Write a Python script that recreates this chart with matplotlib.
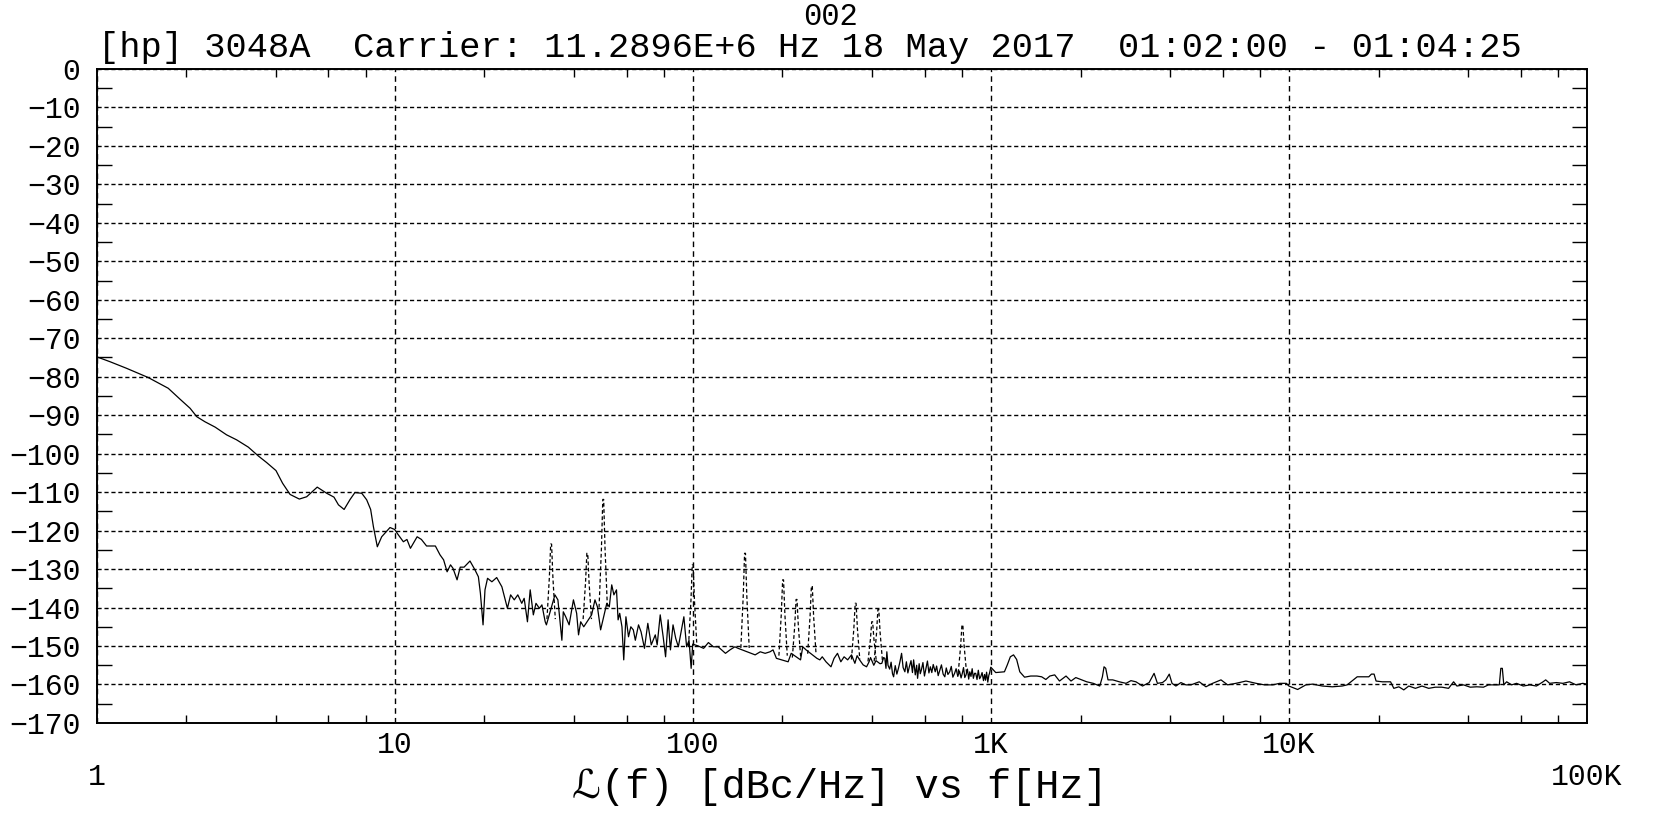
import matplotlib
matplotlib.use("Agg")
import numpy as np
import matplotlib.pyplot as plt
from matplotlib.ticker import FixedLocator, FixedFormatter, NullFormatter

# texts of the HP 3048A plot
run_id = "002"
header = "[hp] 3048A  Carrier: 11.2896E+6 Hz 18 May 2017  01:02:00 - 01:04:25"
x_label = "ℒ(f) [dBc/Hz] vs f[Hz]"

x_ticks = [1, 10, 100, 1e3, 1e4, 1e5]
x_tick_labels = ["1", "10", "100", "1K", "10K", "100K"]
y_ticks = list(range(0, -171, -10))
y_tick_labels = ["0"] + ["\u2212%d" % -v for v in y_ticks[1:]]

# measured trace, one decade at a time (Hz, dBc/Hz)
f_dec1 = [1.0, 1.11, 1.26, 1.49, 1.74, 1.91, 2.06, 2.17, 2.31, 2.50, 2.73, 2.95,
          3.23, 3.49, 3.72, 4.00, 4.21, 4.46, 4.79, 5.07, 5.50, 5.92, 6.26, 6.48,
          6.77, 7.09, 7.36, 7.76, 8.06, 8.31, 8.49, 8.75, 9.05, 9.65]
l_dec1 = [-74.8, -76.1, -77.8, -80.2, -83.0, -85.9, -88.2, -90.4, -91.7, -93.1,
          -95.1, -96.4, -98.3, -100.6, -102.3, -104.4, -107.7, -110.6, -111.8,
          -111.2, -108.7, -110.3, -111.3, -113.3, -114.5, -111.9, -110.1, -110.3,
          -112.0, -114.5, -119.0, -124.2, -121.6, -119.2]

f_dec2 = [10.0, 10.29, 10.7, 11.0, 11.3, 11.9, 12.3, 12.8, 13.7, 14.2, 14.6, 15.0,
          15.4, 15.7, 16.2, 16.6, 17.1, 17.9, 18.6, 19.1, 19.4, 19.8, 20.1, 20.5,
          21.2, 22.0, 22.9, 23.5, 23.9, 24.5, 25.2, 25.9, 26.7, 27.2, 27.9, 28.5,
          29.2, 29.8, 30.6, 31.2, 32.0, 32.3, 34.5, 35.3, 36.4, 36.8, 37.5, 38.5,
          39.8, 40.8, 41.4, 42.1, 43.1, 45.8, 47.0, 47.9, 49.1, 51.5, 52.5, 53.5,
          54.4, 55.5, 56.2, 56.9, 57.9, 58.7, 59.7, 60.9, 62.0, 63.2, 64.2, 65.8,
          67.1, 68.9, 70.7, 72.6, 74.9, 76.0, 77.8, 79.6, 81.1, 82.7, 84.2, 85.9,
          87.7, 89.5, 91.7, 93.4, 95.4, 97.2, 98.8]
l_dec2 = [-119.7, -121.1, -122.9, -122.3, -124.6, -121.6, -122.3, -124.0, -124.0,
          -126.3, -127.6, -130.7, -128.9, -129.8, -132.8, -129.5, -129.5, -127.9,
          -130.2, -132.0, -136.3, -144.5, -135.4, -132.4, -133.3, -132.2, -134.6,
          -138.0, -140.2, -136.7, -138.0, -136.7, -138.9, -137.6, -143.7, -135.4,
          -141.9, -138.9, -140.2, -139.3, -143.7, -144.5, -136.7, -138.0, -148.5,
          -141.1, -142.4, -144.5, -138.0, -141.5, -147.1, -143.7, -145.0, -141.9,
          -138.0, -139.8, -145.8, -138.9, -139.8, -134.1, -136.7, -135.4, -143.2,
          -141.5, -145.0, -153.6, -142.4, -147.6, -145.0, -145.8, -148.5, -144.5,
          -146.3, -150.6, -144.1, -149.7, -147.1, -149.7, -141.9, -147.6, -152.8,
          -143.2, -151.0, -144.5, -148.0, -150.2, -145.8, -142.4, -150.2, -148.5,
          -155.8]

f_dec3 = [100, 104.4, 108.8, 112.9, 117.3, 121.7, 128.8, 133.4, 138.5, 142, 162,
          168.5, 175, 181.7, 186, 190.9, 209, 214, 230, 234, 240, 261, 267, 272,
          280, 291, 298, 306, 314, 322, 331, 341, 350, 356, 363, 373, 383, 390,
          395, 405, 412, 425,
          431, 437, 441, 445, 448, 452, 458, 463, 468, 472, 478, 484, 490, 496,
          502, 508, 515, 521, 527, 533, 540, 546, 551, 558, 564, 568, 575, 580,
          585, 592, 599, 606, 613, 620, 627, 634, 641, 651, 658, 666, 675, 683,
          692, 701, 709, 718, 728, 737, 746, 756, 765, 775, 785, 795, 803, 810,
          818, 826, 835, 843, 850, 858, 866, 874, 882, 890, 899, 908, 917, 925,
          935, 945, 953, 960, 968, 977, 985, 990]
l_dec3 = [-149.5, -150.0, -150.6, -149.1, -150.2, -150.2, -151.9, -151.0, -150.2,
          -150.6, -152.3, -151.5, -151.9, -151.5, -151.0, -153.2, -154.1, -151.9,
          -153.6, -150.2, -151.0, -153.2, -153.6, -152.8, -154.1, -155.4, -153.2,
          -151.9, -154.1, -152.8, -153.6, -152.3, -154.5, -152.5, -153.6, -154.9,
          -155.4, -154.2, -153.0, -155.0, -153.8, -154.6,
          -154.5, -153.0, -153.2, -155.8, -151.5, -155.0, -156.0, -154.2, -157.2,
          -158.0, -155.1, -157.3, -155.8, -154.0, -151.9, -155.6, -156.7, -154.1,
          -157.0, -155.4, -153.8, -156.9, -153.6, -157.5, -155.0, -158.4, -154.6,
          -157.2, -156.2, -154.3, -157.8, -155.8, -153.9, -157.0, -155.4, -156.9,
          -154.8, -156.7, -155.2, -157.7, -156.2, -154.9, -157.3, -158.0, -155.7,
          -157.4, -156.7, -155.3, -158.1, -157.1, -155.9, -157.9, -156.5, -158.3,
          -157.0, -155.6, -158.2, -157.5, -156.0, -158.6, -156.7, -157.9, -155.9,
          -158.4, -157.1, -157.1, -158.7, -156.3, -158.5, -158.0, -156.9, -159.0,
          -157.4, -158.9, -156.8, -159.4, -157.6, -157.1]

f_dec4 = [1000, 1039, 1111, 1136, 1163, 1192, 1221, 1251, 1298, 1361, 1428, 1481,
          1530, 1578, 1638, 1700, 1788, 1858, 1928, 2098, 2207, 2320, 2368, 2398,
          2430, 2473, 2565, 2699, 2842, 2952, 3068, 3228, 3397, 3530, 3622, 3766,
          3866, 3969, 4055, 4177, 4343, 4513, 4692, 5004, 5269, 5547, 5919, 6231,
          6643, 7178, 7763, 8277, 8831, 9304, 9800]
l_dec4 = [-155.5, -156.9, -156.7, -154.9, -152.8, -152.3, -153.5, -156.7, -158.1,
          -157.8, -157.8, -158.0, -158.7, -157.8, -157.5, -159.1, -157.8, -159.1,
          -158.2, -159.3, -159.7, -160.4, -158.0, -155.4, -155.8, -158.8, -158.8,
          -159.3, -159.7, -159.0, -159.3, -160.4, -159.5, -157.1, -159.7, -159.5,
          -158.8, -157.3, -159.7, -160.4, -159.5, -160.1, -160.1, -159.3, -160.6,
          -159.7, -158.8, -160.1, -159.7, -159.1, -159.7, -160.1, -160.1, -159.7,
          -159.7]

f_dec5 = [10000, 10700, 11400, 12000, 12950, 13980, 15090, 15680, 16520, 16950,
          17840, 18540, 18920, 19310, 19610, 20560, 21930, 22490, 23380, 24290,
          25250, 26570, 27960, 29440, 30980, 32610, 34330, 35690, 36610, 38550,
          40570, 42700, 44950, 46720, 48540, 50800, 51400, 52000, 52600, 53770,
          55880, 58040, 61120, 64300, 67660, 71220, 72700, 74960, 78900, 83030,
          87370, 91950, 96760, 100000]
l_dec5 = [-160.4, -161.3, -160.1, -159.9, -160.4, -160.6, -160.4, -160.1, -158.7,
          -158.0, -158.0, -158.0, -157.3, -157.3, -159.1, -159.3, -159.3, -161.0,
          -160.6, -161.4, -160.4, -161.0, -160.4, -161.0, -160.7, -160.7, -161.0,
          -159.3, -160.4, -160.1, -160.7, -160.6, -160.7, -160.1, -160.1, -160.1,
          -155.8, -155.8, -160.1, -159.3, -160.1, -159.7, -160.4, -160.1, -160.4,
          -159.3, -158.8, -159.7, -159.5, -159.7, -159.3, -160.1, -159.7, -159.9]

# spurs (drawn dashed by the 3048A)
spur_freq = [33.5, 44.3, 50.1, 100.0, 149.8, 201, 223, 251, 352, 400, 419.5, 803]
spur_peak = [-123.5, -125.9, -111.9, -128.9, -125.9, -132.8, -137.9, -134.4,
             -138.9, -143.7, -140.5, -144.5]
spur_floor = [-143.0, -143.0, -140.0, -150.0, -150.5, -152.5, -153.0, -152.0,
              -153.5, -154.0, -154.0, -157.0]

freq = np.array(f_dec1 + f_dec2 + f_dec3 + f_dec4 + f_dec5)
level = np.array(l_dec1 + l_dec2 + l_dec3 + l_dec4 + l_dec5)

MONO = ["Liberation Mono", "DejaVu Sans Mono", "DejaVu Sans"]

fig = plt.figure(figsize=(16.67, 8.17), dpi=100)
ax = fig.add_axes([0.0579, 0.1151, 0.8941, 0.8005])
ax.set_xscale("log")
ax.set_xlim(1, 1e5)
ax.set_ylim(-170, 0)

ax.plot(freq, level, color="black", lw=0.9, zorder=3)

# spur shape: base, flank, top, top, flank, base (log offsets in decades)
shape_dx = [-0.014, -0.006, -0.0015, 0.0015, 0.006, 0.014]
shape_h = [0.0, 0.55, 1.0, 1.0, 0.55, 0.0]
for f0, pk, fl in zip(spur_freq, spur_peak, spur_floor):
    xs = [f0 * 10 ** d for d in shape_dx]
    ys = [fl + h * (pk - fl) for h in shape_h]
    ax.plot(xs, ys, color="black", lw=0.9, linestyle=(0, (3, 2)), zorder=3)

# grid
ax.xaxis.grid(True, which="major", color="black", lw=1.0, linestyle=(0, (4, 3)))
ax.yaxis.grid(True, which="major", color="black", lw=1.0, linestyle=(0, (3, 2)))

# ticks
ax.xaxis.set_major_locator(FixedLocator(x_ticks))
ax.xaxis.set_major_formatter(FixedFormatter(x_tick_labels))
minor_x = [m * 10 ** d for d in range(5) for m in (2, 4, 6, 8)]
ax.xaxis.set_minor_locator(FixedLocator(minor_x))
ax.xaxis.set_minor_formatter(NullFormatter())
ax.yaxis.set_major_locator(FixedLocator(y_ticks))
ax.yaxis.set_major_formatter(FixedFormatter(y_tick_labels))
ax.yaxis.set_minor_locator(FixedLocator(list(range(-5, -170, -10))))

ax.tick_params(which="major", length=0)
ax.tick_params(axis="x", which="minor", direction="in", length=5.8, width=1.0,
               top=True, bottom=True)
ax.tick_params(axis="y", which="minor", direction="in", length=10.5, width=1.0,
               left=True, right=True)
ax.tick_params(axis="x", which="major", pad=6.0)
ax.tick_params(axis="y", which="major", pad=11.5)
for lab in ax.get_xticklabels() + ax.get_yticklabels():
    lab.set_family(MONO)
    lab.set_fontsize(21.5)

# end labels sit lower on the 3048A plot
xt = ax.xaxis.get_major_ticks()
xt[0].set_pad(29)
xt[-1].set_pad(29)

for s in ax.spines.values():
    s.set_linewidth(1.4)

fig.text(0.4985, 0.998, run_id, ha="center", va="top", family=MONO, fontsize=22)
fig.text(0.486, 1 - 31.5 / 817, header, ha="center", va="top", family=MONO,
         fontsize=25.5)
fig.text(0.504, 0.0367, x_label, ha="center", va="center", family=MONO, fontsize=29)

fig.savefig("out.png", dpi=100)
